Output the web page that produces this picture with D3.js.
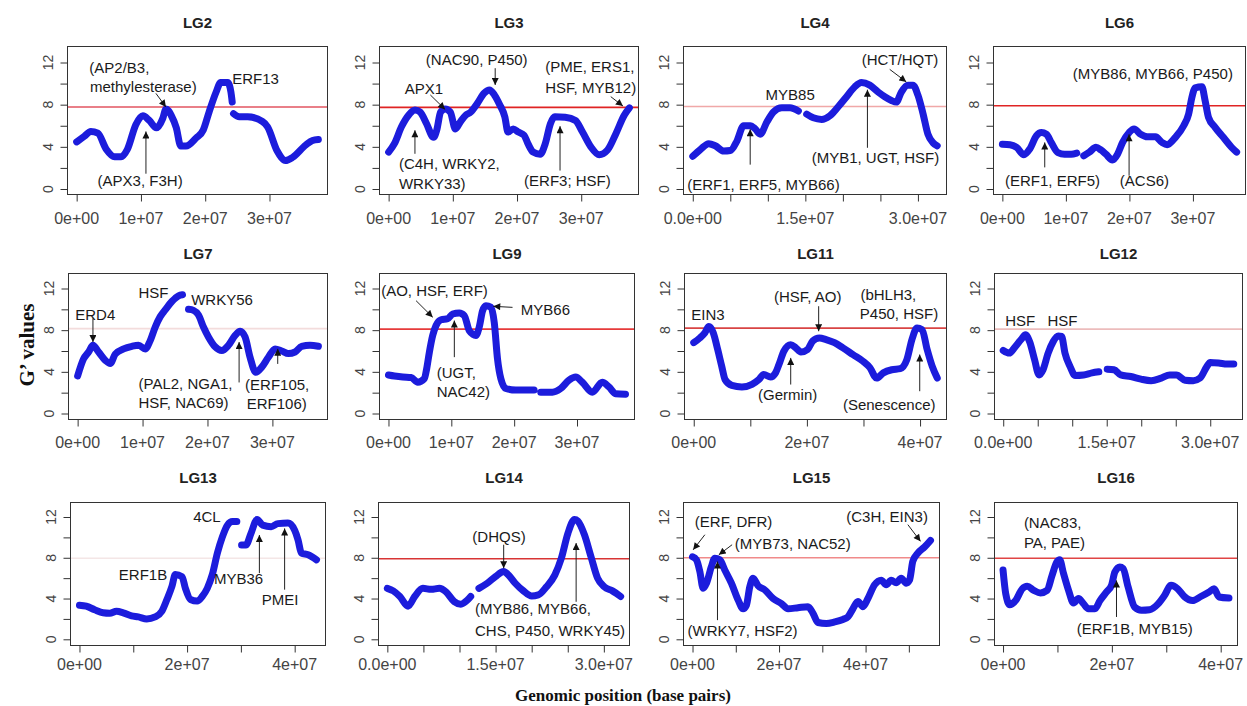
<!DOCTYPE html>
<html><head><meta charset="utf-8">
<script src="https://cdn.jsdelivr.net/npm/d3@7"></script>
<style>body{margin:0;background:#fff}svg{display:block}</style>
</head><body>
<svg id="c" width="1247" height="706"></svg>
<script>
// ---------------- DATA (positions in Mb, G' values; null = gap) ----------------
const panelNames = ["LG2","LG3","LG4","LG6","LG7","LG9","LG11","LG12","LG13","LG14","LG15","LG16"];

const LG2_mb = [0,1.2,2.2,3.3,4.6,5.9,6.9,7.9,9.2,10.3,11.3,12.4,13.4,13.9,14.7,15.5,16.2,17.0,18.6,19.7,20.6,21.7,22.4,23.5,24.0,24.2,24.3,24.4,25.3,26.6,28.9,29.7,31.2,32.5,33.6,35.7,36.7,37.6];
const LG2_g  = [4.47,5.0,5.46,5.3,3.77,3.05,3.05,3.77,6.1,6.95,6.5,5.8,6.7,7.6,7.0,5.8,4.07,4.07,4.85,5.6,7.3,9.2,10.1,10.1,9.2,8.25,null,7.15,6.85,6.85,6.4,5.9,3.6,2.7,3.0,4.2,4.6,4.7];

const LG3_mb = [0,0.9,2.0,3.1,4.1,4.9,5.9,7.0,7.5,8.1,8.8,9.6,10.4,11.2,12.0,12.8,13.8,14.9,15.7,16.5,17.3,18.1,18.6,19.4,20.2,21.1,21.7,22.5,23.6,24.4,25.2,25.9,27.5,29.1,30.2,31.5,32.8,34.1,35.4,36.7,37.5];
const LG3_g  = [3.5,4.3,5.9,7.0,7.5,7.3,6.2,4.9,5.6,7.3,7.6,7.3,5.7,6.4,7.0,7.3,8.1,9.1,9.4,8.9,8.0,6.85,5.4,5.7,5.4,5.1,4.3,3.5,3.3,4.3,6.2,6.85,6.8,6.5,5.4,4.0,3.25,3.7,5.25,7.0,7.7];

const LG4_mb = [0,1.02,2.12,3.0,4.12,5.0,5.88,6.77,7.65,8.32,8.98,9.87,10.75,11.86,12.96,14.07,14.6,15.18,16.06,17.17,18.27,19.38,20.49,21.59,22.48,23.58,24.69,25.58,26.46,27.12,27.79,28.67,29.34,30.0,30.66,31.33,31.99,32.57];
const LG4_g  = [3.1,3.75,4.3,4.1,3.6,3.65,4.55,6.0,6.0,5.7,5.2,6.35,7.3,7.7,7.7,7.4,null,7.1,6.75,6.6,6.95,7.8,8.75,9.7,10.1,9.85,9.2,8.75,8.4,8.25,9.2,9.85,9.85,8.9,7.2,5.2,4.4,4.1];

const LG6_mb = [0,1.2,2.24,3.39,4.32,5.36,6.15,6.93,7.71,8.75,9.79,10.83,11.72,12.3,12.81,13.7,14.74,15.52,16.3,17.34,18.13,18.91,19.95,20.73,21.77,22.81,24.11,25.16,25.94,27.24,28.54,29.32,29.84,30.36,31.41,31.93,32.45,33.49,34.79,36.09,36.88];
const LG6_g  = [4.25,4.2,3.95,3.25,3.8,5.05,5.35,5.2,4.4,3.45,3.3,3.3,3.4,null,3.15,3.5,3.95,3.7,3.3,2.75,3.3,4.4,5.35,5.7,5.2,4.95,4.95,4.4,4.2,4.9,6.0,7.1,8.7,9.6,9.7,8.35,6.8,5.85,4.9,3.95,3.5];

const LG7_mb = [0,0.92,1.69,2.36,3.23,4.26,5.03,5.79,7.08,8.36,9.38,10.41,11.18,11.95,12.72,13.49,14.51,15.54,16.15,16.6,17.08,17.85,18.62,19.38,20.15,21.18,22.21,23.23,24.26,25.03,25.79,26.56,27.44,28.36,29.38,30.41,31.44,32.46,33.49,34.51,35.79,37.08];
const LG7_g  = [3.6,5.25,5.9,6.55,5.9,5.1,4.8,5.7,6.2,6.45,6.55,6.2,7.0,8.3,9.3,9.95,10.75,11.3,11.4,null,10.0,9.9,9.45,8.3,7.35,6.4,6.05,6.55,7.5,7.9,7.35,5.4,3.95,4.45,5.4,6.2,6.0,5.75,5.9,6.45,6.55,6.45];

const LG9_mb = [0,0.95,2.28,3.6,4.66,5.71,6.08,6.51,7.04,7.57,8.36,9.42,10.21,11.27,12.06,12.86,13.92,14.44,14.97,15.5,16.3,16.83,17.35,17.88,18.68,20.26,21.85,23.17,23.7,24.23,26.08,27.41,28.73,29.79,30.85,32.43,34.02,35.08,36.14,37.72];
const LG9_g  = [3.7,3.6,3.5,3.45,3.0,3.35,4.3,5.9,7.5,8.45,9.0,9.1,9.55,9.65,9.4,7.95,7.5,8.3,9.85,10.35,10.2,8.75,5.25,3.35,2.4,2.25,2.25,2.25,null,2.05,2.05,2.4,3.2,3.5,3.0,2.05,3.0,2.55,1.9,1.85];

const LG11_mb = [0,1.07,1.96,2.68,3.45,4.23,4.94,5.54,6.73,8.51,10.3,11.49,12.38,13.57,14.46,15.06,15.95,17.14,18.04,18.93,20.12,21.01,22.2,23.39,24.88,26.37,28.15,29.94,31.13,32.32,33.51,35.0,36.49,37.68,38.57,39.46,40.36,41.25,42.14,43.04];
const LG11_g  = [6.8,7.25,7.75,8.35,7.75,6.15,4.55,3.25,2.7,2.55,2.8,3.25,3.75,3.5,3.9,4.7,6.0,6.6,6.3,5.9,6.15,6.95,7.25,7.1,6.8,6.3,5.65,5.0,4.4,3.4,3.9,4.2,4.3,5.2,7.1,8.2,8.05,6.15,4.55,3.4];

const LG12_mb = [0,0.88,1.61,2.59,3.23,3.82,4.55,5.19,5.77,6.51,7.24,7.97,8.46,8.95,9.69,10.42,11.64,12.87,13.85,14.5,15.07,16.05,17.03,18.49,19.96,21.43,22.9,24.12,25.1,26.35,27.54,28.52,29.5,29.99,31.21,32.44,33.41];
const LG12_g  = [6.05,5.8,6.3,7.1,7.55,6.9,5.15,3.7,4.2,5.8,6.9,7.45,7.4,5.8,4.5,3.65,3.7,3.9,4.0,null,4.25,4.2,3.7,3.55,3.3,3.15,3.4,3.7,3.7,3.2,3.15,3.4,4.5,4.9,4.85,4.75,4.75];

const LG13_mb = [0,1.25,2.81,4.38,5.63,6.88,8.13,9.69,10.94,12.5,14.06,15.31,16.25,17.19,17.81,19.06,19.69,20.63,21.88,22.81,23.75,24.69,25.63,26.56,27.5,28.44,29.25,29.7,30.13,30.94,31.88,33.0,34.06,35.63,36.88,38.75,40.0,40.63,41.25,42.5,44.06];
const LG13_g  = [3.35,3.25,2.9,2.6,2.55,2.75,2.6,2.3,2.2,2.0,2.2,2.75,3.9,5.2,6.35,6.15,5.0,3.9,3.75,4.2,5.0,6.35,8.45,10.05,11.2,11.55,11.55,null,9.25,9.25,10.4,11.75,11.2,11.05,11.35,11.4,10.7,9.75,8.45,8.3,7.8];

const LG14_mb = [0,0.82,1.74,2.88,3.79,4.93,6.07,7.21,8.13,9.27,10.18,11.1,11.55,12.1,12.69,13.84,14.98,16.12,16.8,17.72,18.86,20.0,20.91,22.05,23.2,24.11,25.02,25.94,26.39,27.31,28.22,29.13,30.05,31.19,32.33];
const LG14_g  = [5.0,4.75,4.2,3.25,4.2,5.0,4.9,5.0,4.65,3.7,3.45,3.85,4.2,null,5.0,5.5,6.15,6.65,6.3,5.5,4.75,4.25,4.35,5.15,6.3,7.95,10.4,11.75,11.6,10.25,8.1,6.0,5.15,4.75,4.2];

const LG15_mb = [0,0.92,1.69,2.46,3.23,4.38,5.15,6.31,7.46,9.0,10.54,11.69,12.46,13.23,14.0,15.15,16.69,18.62,20.54,22.08,24.38,26.69,27.85,29.0,30.92,32.85,34.77,35.92,37.08,38.23,39.38,40.54,42.08,43.62,44.77,45.92,47.08,48.23,49.38,50.15,50.92,52.08,53.62,55.0];
const LG15_g  = [8.1,7.8,6.65,5.0,5.5,7.15,7.95,7.8,6.8,5.5,3.85,3.0,3.35,5.15,6.0,5.25,4.85,4.0,3.5,3.0,3.1,3.2,2.55,1.65,1.55,1.7,1.95,2.2,3.0,3.7,3.2,4.0,5.35,5.8,5.35,5.8,5.55,6.0,5.5,5.8,7.65,8.45,9.05,9.7];

const LG16_mb = [0,0.5,1.22,2.31,3.53,4.44,5.65,6.87,8.09,9.0,9.91,10.4,11.12,12.04,12.95,13.86,14.77,15.68,16.9,17.81,19.03,19.94,20.55,21.46,22.07,22.98,24.19,25.41,26.93,28.45,29.67,30.88,32.1,33.31,34.83,36.35,37.87,38.78,39.7,41.52];
const LG16_g  = [6.8,4.45,3.4,3.8,4.95,5.2,4.8,4.55,4.8,6.25,7.6,7.8,6.45,4.8,3.55,4.0,3.5,3.0,3.0,3.8,4.65,5.3,6.6,7.1,6.95,5.15,3.15,2.85,2.9,3.45,4.3,5.3,4.95,4.2,3.8,4.2,4.65,4.95,4.15,4.05];

// significance thresholds (G')
const thresholds = [7.78,7.74,7.82,7.9,8.15,8.1,8.2,8.1,7.95,7.9,8.0,7.95];

// x tick values (bp) and labels
const ticks10 = [0,1e7,2e7,3e7];
const ticks5  = [0,5e6,1e7,1.5e7,2e7,2.5e7,3e7];
const ticks40 = [0,1e7,2e7,3e7,4e7];
const ticks50 = [0,1e7,2e7,3e7,4e7,5e7];
const labels10 = {0:"0e+00",1e7:"1e+07",2e7:"2e+07",3e7:"3e+07"};
const labels5  = {0:"0.0e+00",1.5e7:"1.5e+07",3e7:"3.0e+07"};
const labels40 = {0:"0e+00",2e7:"2e+07",4e7:"4e+07"};
const xTicks  = [ticks10,ticks10,ticks5,ticks10,ticks10,ticks10,ticks40,ticks5,ticks40,ticks5,ticks50,ticks40];
const xLabels = [labels10,labels10,labels5,labels10,labels10,labels10,labels40,labels5,labels40,labels5,labels40,labels40];
const yTicks = [0,2,4,6,8,10,12];
const yLabels = [0,4,8,12];

// annotations: [text, x (Mb), G'] and arrows [x1,g1,x2,g2]
const annoTexts = {
  LG2:[["(AP2/B3,",1.97,11.48],["methylesterase)",2.07,9.72],["(APX3, F3H)",3.26,0.83],["ERF13",24.2,10.46]],
  LG3:[["(NAC90, P450)",5.8,12.26],["APX1",2.5,9.55],["(PME, ERS1,",24.4,11.62],["HSF, MYB12)",24.4,9.65],["(C4H, WRKY2,",1.6,2.39],["WRKY33)",1.6,0.54],["(ERF3; HSF)",21.1,0.8]],
  LG4:[["(HCT/HQT)",22.5,12.24],["MYB85",9.7,8.97],["(ERF1, ERF5, MYB66)",-0.75,0.45],["(MYB1, UGT, HSF)",15.84,2.95]],
  LG6:[["(MYB86, MYB66, P450)",11.09,10.95],["(ERF1, ERF5)",0.42,0.79],["(ACS6)",18.49,0.79]],
  LG7:[["ERD4",-0.36,9.51],["HSF",9.38,11.62],["WRKY56",17.49,10.9],["(PAL2, NGA1,",9.38,2.88],["HSF, NAC69)",9.38,1.04],["(ERF105,",25.79,2.82],["ERF106)",26.05,0.94]],
  LG9:[["(AO, HSF, ERF)",-1.16,11.78],["MYB66",21.06,10.03],["(UGT,",7.67,3.98],["NAC42)",7.67,2.07]],
  LG11:[["EIN3",-0.42,9.5],["(HSF, AO)",14.17,11.26],["(bHLH3,",29.46,11.42],["P450, HSF)",29.35,9.6],["(Germin)",11.37,1.82],["(Senescence)",26.37,0.86]],
  LG12:[["HSF",0.29,8.94],["HSF",6.41,8.94]],
  LG13:[["4CL",21.13,12.08],["ERF1B",7.31,6.33],["MYB36",25.0,6.0],["PMEI",33.88,3.9]],
  LG14:[["(DHQS)",11.78,10.1],["(MYB86, MYB66,",12.15,3.03],["CHS, P450, WRKY45)",12.15,0.89]],
  LG15:[["(ERF, DFR)",0.54,11.58],["(MYB73, NAC52)",9.77,9.44],["(WRKY7, HSF2)",-1.15,0.89],["(C3H, EIN3)",35.54,12.07]],
  LG16:[["(NAC83,",3.83,11.5],["PA, PAE)",3.83,9.54],["(ERF1B, MYB15)",13.56,1.05]]
};
const annoArrows = {
  LG2:[[12.33,9.07,13.89,7.78],[10.78,1.45,10.78,5.46]],
  LG3:[[16.6,11.46,16.6,9.87],[6.5,8.92,8.8,7.55],[34.6,8.76,36.5,7.87],[4.1,3.34,4.1,5.57],[26.7,1.75,26.7,5.96]],
  LG4:[[26.24,11.35,28.45,10.16],[7.65,2.31,7.65,5.67],[23.27,3.91,23.27,9.42]],
  LG6:[[6.67,2.05,6.67,4.42],[19.95,1.26,19.95,5.2]],
  LG7:[[2.36,9.13,2.36,6.86],[24.87,2.98,24.87,6.86],[30.82,4.76,30.82,6.21]],
  LG9:[[4.39,10.83,7.04,9.24],[19.74,10.19,16.67,10.29],[10.48,5.41,10.48,8.92]],
  LG11:[[22.08,10.3,22.08,7.9],[17.14,2.78,17.14,5.34],[39.94,2.14,39.94,5.66]],
  LG12:[],
  LG13:[[33.44,6.49,33.44,10.23],[38.13,4.87,38.13,10.88]],
  LG14:[[16.12,9.28,16.12,6.97],[26.16,3.68,26.16,9.44]],
  LG15:[[2.85,10.26,0.15,8.78],[9.15,9.28,6.08,8.29],[5.77,1.88,5.77,7.63],[49.77,11.25,52.69,9.61]],
  LG16:[[20.85,2.19,20.85,5.78]]
};

// ---------------- LAYOUT / STYLE ----------------
const boxX = [[67,328],[379,639],[683,947],[993,1246],
              [68,328],[379,635],[684,947],[994,1243],
              [70,326],[378,630],[683,940],[994,1238]];
const rowY = [{y0:189,y12:62.5,title:22,xlab:218},{y0:413.5,y12:288.5,title:253,xlab:442},{y0:639.3,y12:517,title:477,xlab:664}];
const threshColors = ["#e25560","#e02424","#f0a8a8","#e02424","#f3dcdc","#e63a3a","#d84444","#ecbcbc","#f4e6e6","#d83434","#f08a8a","#e04444"];
const blue = "#1c1cdc";

const svg = d3.select("#c");
svg.append("rect").attr("width",1247).attr("height",706).attr("fill","#fff");
const defs = svg.append("defs");
defs.append("marker").attr("id","ah").attr("viewBox","0 0 10 10").attr("refX",10).attr("refY",5)
  .attr("markerWidth",8).attr("markerHeight",7).attr("markerUnits","userSpaceOnUse").attr("orient","auto")
  .append("path").attr("d","M0,0L10,5L0,10Z").attr("fill","#111");

const dataMap = {LG2:[LG2_mb,LG2_g],LG3:[LG3_mb,LG3_g],LG4:[LG4_mb,LG4_g],LG6:[LG6_mb,LG6_g],LG7:[LG7_mb,LG7_g],LG9:[LG9_mb,LG9_g],
  LG11:[LG11_mb,LG11_g],LG12:[LG12_mb,LG12_g],LG13:[LG13_mb,LG13_g],LG14:[LG14_mb,LG14_g],LG15:[LG15_mb,LG15_g],LG16:[LG16_mb,LG16_g]};

panelNames.forEach((name,i)=>{
  const row = rowY[Math.floor(i/4)];
  const [mb,g] = dataMap[name];
  const pts = mb.map((m,k)=>({bp:m*1e6,g:g[k]}));
  const ext = d3.extent(pts,d=>d.bp);
  const pad = (ext[1]-ext[0])*0.04;
  const x = d3.scaleLinear().domain([ext[0]-pad,ext[1]+pad]).range(boxX[i]);
  const y = d3.scaleLinear().domain([0,12]).range([row.y0,row.y12]);
  const top = y(13.52), bottom = y(-0.52);
  const left = boxX[i][0], right = boxX[i][1];
  const gp = svg.append("g");

  // threshold line
  gp.append("line").attr("x1",left).attr("x2",right).attr("y1",y(thresholds[i])).attr("y2",y(thresholds[i]))
    .attr("stroke",threshColors[i]).attr("stroke-width",1.6);

  // curve
  const line = d3.line().defined(d=>d.g!=null).x(d=>x(d.bp)).y(d=>y(d.g)).curve(d3.curveMonotoneX);
  gp.append("path").datum(pts).attr("d",line).attr("fill","none").attr("stroke",blue)
    .attr("stroke-width",7).attr("stroke-linejoin","round").attr("stroke-linecap","round");

  // box
  gp.append("rect").attr("x",left+0.5).attr("y",Math.round(top)+0.5).attr("width",right-left-1).attr("height",Math.round(bottom)-Math.round(top))
    .attr("fill","none").attr("stroke","#333").attr("stroke-width",1);

  // x axis
  const xa = gp.append("g").attr("transform",`translate(0,${Math.round(bottom)+0.5})`)
    .call(d3.axisBottom(x).tickValues(xTicks[i]).tickSize(7).tickFormat(""));
  xa.select(".domain").remove();
  xa.selectAll("line").attr("stroke","#333");
  gp.selectAll(".xl").data(xTicks[i].filter(t=>xLabels[i][t]!==undefined)).enter().append("text")
    .attr("x",d=>x(d)).attr("y",row.xlab).attr("text-anchor","middle").attr("dominant-baseline","central")
    .attr("font-family","Liberation Sans, Arial, sans-serif").attr("font-size",16).attr("fill","#444")
    .text(d=>xLabels[i][d]);

  // y axis
  const ya = gp.append("g").attr("transform",`translate(${left+0.5},0)`)
    .call(d3.axisLeft(y).tickValues(yTicks).tickSize(7).tickFormat(""));
  ya.select(".domain").remove();
  ya.selectAll("line").attr("stroke","#333");
  gp.selectAll(".yl").data(yLabels).enter().append("text")
    .attr("transform",d=>`translate(${left-19},${y(d)}) rotate(-90)`)
    .attr("text-anchor","middle").attr("dominant-baseline","central")
    .attr("font-family","Liberation Sans, Arial, sans-serif").attr("font-size",14).attr("fill","#444")
    .text(d=>d);

  // title
  gp.append("text").attr("x",(left+right)/2).attr("y",row.title).attr("text-anchor","middle").attr("dominant-baseline","central")
    .attr("font-family","Liberation Sans, Arial, sans-serif").attr("font-weight","bold").attr("font-size",15).attr("fill","#222")
    .text(name);

  // annotations
  annoArrows[name].forEach(a=>{
    gp.append("line").attr("x1",x(a[0]*1e6)).attr("y1",y(a[1])).attr("x2",x(a[2]*1e6)).attr("y2",y(a[3]))
      .attr("stroke","#222").attr("stroke-width",1).attr("marker-end","url(#ah)");
  });
  annoTexts[name].forEach(t=>{
    gp.append("text").attr("x",x(t[1]*1e6)).attr("y",y(t[2])).attr("dominant-baseline","central")
      .attr("font-family","Liberation Sans, Arial, sans-serif").attr("font-size",15).attr("fill","#1a1a1a")
      .text(t[0]);
  });
});

svg.append("text").attr("transform","translate(27,345) rotate(-90)").attr("text-anchor","middle").attr("dominant-baseline","central")
  .attr("font-family","Liberation Serif, Times New Roman, serif").attr("font-weight","bold").attr("font-size",21).attr("fill","#111")
  .text("G’ values");
svg.append("text").attr("x",623).attr("y",695).attr("text-anchor","middle").attr("dominant-baseline","central")
  .attr("font-family","Liberation Serif, Times New Roman, serif").attr("font-weight","bold").attr("font-size",17).attr("fill","#111")
  .text("Genomic position (base pairs)");
</script></body></html>
